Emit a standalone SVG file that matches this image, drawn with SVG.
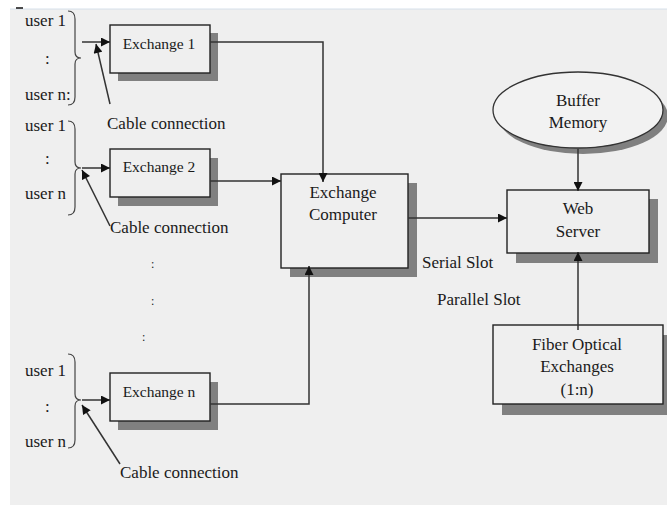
<svg xmlns="http://www.w3.org/2000/svg" width="667" height="506" viewBox="0 0 667 506" font-family="'Liberation Serif', 'Times New Roman', Times, serif">
<defs>
<style>
text{font-family:'Liberation Serif','Times New Roman',Times,serif;fill:#1a1a1a;font-size:17px}
.ex{font-size:15.5px}
.c{text-anchor:middle}
.box{fill:#efefef;stroke:#222;stroke-width:1.4}
.sh{fill:#808080}
.ln{fill:none;stroke:#333;stroke-width:1.5}
.br{fill:none;stroke:#444;stroke-width:1.2}
</style>
<marker id="ah" viewBox="0 0 10 10" refX="10" refY="5" markerWidth="10" markerHeight="9" markerUnits="userSpaceOnUse" orient="auto">
<path d="M0,0 L10,5 L0,10 Z" fill="#111"/>
</marker>
</defs>
<rect x="0" y="0" width="667" height="506" fill="#ffffff"/>
<rect x="10" y="9" width="657" height="496" fill="#efefef"/>
<line x1="10" y1="9" x2="667" y2="9" stroke="#d6e0ea" stroke-width="1"/>
<line x1="16" y1="8" x2="23" y2="8" stroke="#111" stroke-width="1.5"/>

<g id="group1">
<text x="25" y="26">user 1</text>
<text x="45" y="64">:</text>
<text x="25" y="100">user n:</text>
<path class="br" d="M68,11 Q75,11 75,19 L75,52 Q75,58 81,58 Q75,58 75,64 L75,97 Q75,105 68,105"/>
<text x="107" y="129">Cable connection</text>
</g>
<g id="exchange1">
<rect class="sh" x="118" y="33" width="100" height="48"/>
<rect class="box" x="110" y="25" width="100" height="48"/>
<text class="ex c" x="159" y="49">Exchange 1</text>
</g>

<g id="group2">
<text x="25" y="131">user 1</text>
<text x="45" y="164">:</text>
<text x="25" y="199">user n</text>
<path class="br" d="M68,121 Q75,121 75,129 L75,162 Q75,168 81,168 Q75,168 75,174 L75,207 Q75,215 68,215"/>
<text x="110" y="233">Cable connection</text>
</g>
<g id="exchange2">
<rect class="sh" x="118" y="158" width="100" height="48"/>
<rect class="box" x="110" y="149" width="100" height="48"/>
<text class="ex c" x="159" y="172">Exchange 2</text>
</g>

<g id="dots">
<text x="151" y="268" style="font-size:12px">:</text>
<text x="151" y="305" style="font-size:12px">:</text>
<text x="142" y="341" style="font-size:12px">:</text>
</g>

<g id="group3">
<text x="25" y="376">user 1</text>
<text x="45" y="412">:</text>
<text x="25" y="447">user n</text>
<path class="br" d="M68,354 Q75,354 75,362 L75,394 Q75,400 81,400 Q75,400 75,406 L75,440 Q75,448 68,448"/>
<text x="120" y="478">Cable connection</text>
</g>
<g id="exchangen">
<rect class="sh" x="118" y="382" width="100" height="48"/>
<rect class="box" x="110" y="373" width="100" height="48"/>
<text class="ex c" x="159" y="397">Exchange n</text>
</g>

<g id="exchangeComputer">
<rect class="sh" x="290" y="183" width="127" height="94"/>
<rect class="box" x="281" y="174" width="127" height="94"/>
<text class="c" x="343" y="198">Exchange</text>
<text class="c" x="343" y="220">Computer</text>
</g>

<g id="bufferMemory">
<ellipse cx="583" cy="116" rx="85" ry="38" fill="#808080"/>
<ellipse cx="578" cy="110" rx="85" ry="38" fill="#f2f2f2" stroke="#333" stroke-width="1.3"/>
<text class="c" x="578" y="106">Buffer</text>
<text class="c" x="578" y="128">Memory</text>
</g>

<g id="webServer">
<rect class="sh" x="516" y="199" width="142" height="64"/>
<rect class="box" x="507" y="190" width="142" height="63"/>
<text class="c" x="578" y="214">Web</text>
<text class="c" x="578" y="237">Server</text>
</g>

<g id="fiberOptical">
<rect class="sh" x="502" y="335" width="170" height="80"/>
<rect class="box" x="493" y="325" width="170" height="79"/>
<text class="c" x="577" y="350">Fiber Optical</text>
<text class="c" x="577" y="372">Exchanges</text>
<text class="c" x="577" y="395">(1:n)</text>
</g>

<g id="labels">
<text x="422" y="268">Serial Slot</text>
<text x="437" y="305">Parallel Slot</text>
</g>

<g id="connectors">
<line class="ln" x1="82" y1="42" x2="110" y2="42" marker-end="url(#ah)"/>
<line class="ln" x1="110" y1="104" x2="96" y2="44" marker-end="url(#ah)"/>
<line class="ln" x1="82" y1="168" x2="110" y2="168" marker-end="url(#ah)"/>
<line class="ln" x1="110" y1="226" x2="82" y2="170" marker-end="url(#ah)"/>
<line class="ln" x1="82" y1="400" x2="110" y2="400" marker-end="url(#ah)"/>
<line class="ln" x1="120" y1="464" x2="82" y2="405" marker-end="url(#ah)"/>
<polyline class="ln" points="210,42 323,42 323,182" marker-end="url(#ah)"/>
<line class="ln" x1="210" y1="181" x2="281" y2="181" marker-end="url(#ah)"/>
<polyline class="ln" points="210,404 309,404 309,266" marker-end="url(#ah)"/>
<line class="ln" x1="408" y1="218" x2="507" y2="218" marker-end="url(#ah)"/>
<line class="ln" x1="578" y1="149" x2="578" y2="191" marker-end="url(#ah)"/>
<line class="ln" x1="578" y1="330" x2="578" y2="252" marker-end="url(#ah)"/>
</g>
</svg>
